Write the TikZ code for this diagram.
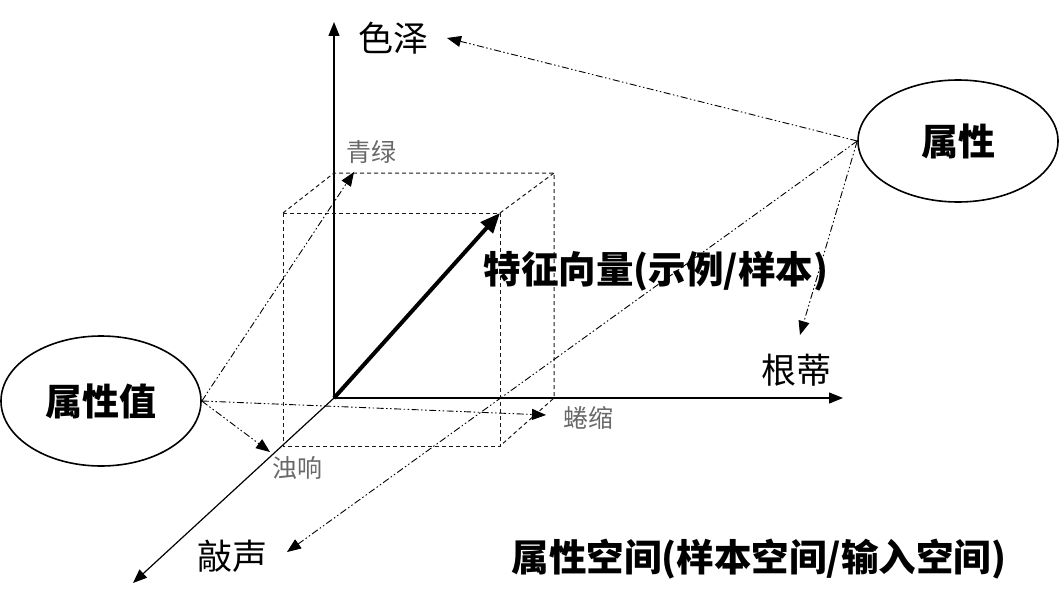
\documentclass[tikz,border=0pt]{standalone}
\usepackage{fontspec}
\setmainfont{Noto Sans CJK SC}
\usetikzlibrary{arrows.meta,shapes.geometric}
\definecolor{lblgray}{RGB}{105,105,105}
\tikzset{
  axis/.style={line width=1.2pt,-{Triangle[length=14pt,width=11pt]}},
  cubeedge/.style={line width=1pt,dash pattern=on 4pt off 3pt,black!90},
  dd/.style={line width=0.9pt,dash pattern=on 7pt off 2.5pt on 1.5pt off 2.5pt on 1.5pt off 2.5pt,-{Triangle[length=14pt,width=11pt]}},
  oval/.style={ellipse,draw,line width=1.6pt,inner sep=0pt},
  lbl/.style={inner sep=0pt,font=\fontsize{35}{40}\selectfont},
  small/.style={inner sep=0pt,text=lblgray,font=\fontsize{25}{28}\selectfont},
  big/.style={inner sep=0pt,font=\fontsize{37.5}{42}\selectfont\bfseries},
}
\begin{document}
\begin{tikzpicture}[x=1pt,y=-1pt]
\useasboundingbox (0,0) rectangle (1059,607);
% axes
\coordinate (O) at (334,398);
\coordinate (Yend) at (334,22);
\coordinate (Xend) at (843,398);
\coordinate (Zend) at (133,583);
\draw[axis] (O) -- (Yend);
\draw[axis] (O) -- (Xend);
\draw[axis] (O) -- (Zend);
% cube
\coordinate (A) at (283,213);
\coordinate (B) at (500,213);
\coordinate (C) at (500,446);
\coordinate (D) at (283,446);
\coordinate (E) at (334,173);
\coordinate (F) at (554,173);
\coordinate (G) at (554,398);
\draw[cubeedge] (A) -- (B) -- (C) -- (D) -- cycle;
\draw[cubeedge] (A) -- (E) -- (F) -- (G) -- (C);
\draw[cubeedge] (B) -- (F);
% feature vector
\draw[line width=4pt,-{Triangle[length=20pt,width=16pt]}] (O) -- (B);
% labels
\node[lbl] (sz) at (393,38) {色泽};
\node[lbl] (gd) at (796,370) {根蒂};
\node[lbl] (qs) at (232,556) {敲声};
\node[small] (ql) at (371,152) {青绿};
\node[small] (zx) at (297,468) {浊响};
\node[small] (qsu) at (588,418) {蜷缩};
\node[big] (fv) at (656,271) {特征向量(示例/样本)};
\node[big] (space) at (759,559) {属性空间(样本空间/输入空间)};
% ellipses
\node[oval,minimum width=200pt,minimum height=122pt,font=\fontsize{37}{42}\selectfont\bfseries] (P) at (958,141) {属性};
\node[oval,minimum width=200pt,minimum height=130pt,font=\fontsize{37}{42}\selectfont\bfseries] (V) at (101,401) {属性值};
% arrow targets
\coordinate (tSZ) at (447,38);
\coordinate (tQS) at (287,552);
\coordinate (tGD) at (800,335);
\coordinate (tQL) at (354,172);
\coordinate (tQSU) at (546,415);
\coordinate (tZX) at (270,452);
\draw[dd] (P.west) -- (tSZ);
\draw[dd] (P.west) -- (tQS);
\draw[dd] (P.west) -- (tGD);
\draw[dd] (V.east) -- (tQL);
\draw[dd] (V.east) -- (tQSU);
\draw[dd] (V.east) -- (tZX);
\end{tikzpicture}
\end{document}
